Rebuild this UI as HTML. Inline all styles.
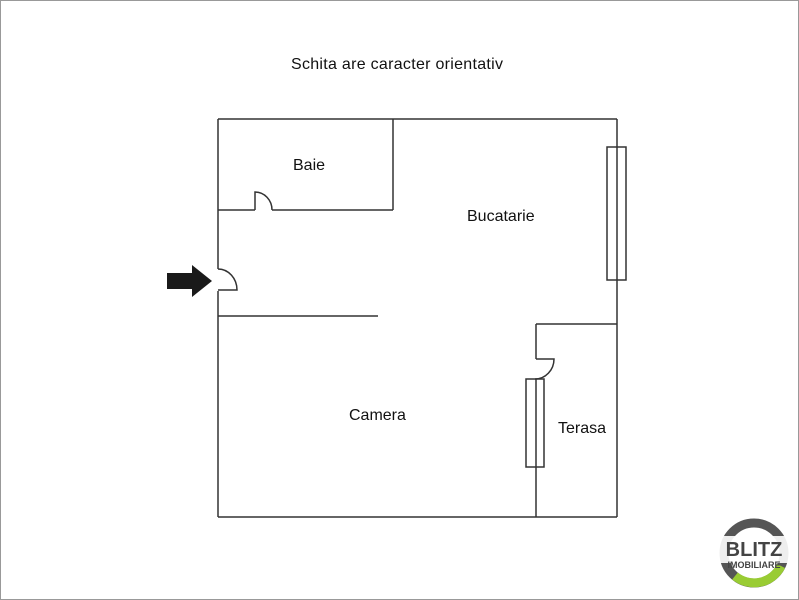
<!DOCTYPE html>
<html><head><style>body{margin:0;background:#fff}svg{display:block}text{font-family:"Liberation Sans",sans-serif}</style></head><body>
<svg width="799" height="600" viewBox="0 0 799 600" xmlns="http://www.w3.org/2000/svg">
<rect x="0.5" y="0.5" width="798" height="599" fill="#fff" stroke="#999"/>
<text x="397" y="69" font-size="16" text-anchor="middle" fill="#111" textLength="212">Schita are caracter orientativ</text>
<g stroke="#333" stroke-width="1.5" fill="none">
<line x1="218" y1="119" x2="617" y2="119"/>
<line x1="218" y1="517" x2="617" y2="517"/>
<line x1="617" y1="119" x2="617" y2="517"/>
<line x1="218" y1="119" x2="218" y2="269"/>
<line x1="218" y1="291" x2="218" y2="517"/>
<path d="M218 269 A19 21 0 0 1 237 290 L218 290"/>
<line x1="393" y1="119" x2="393" y2="210"/>
<line x1="218" y1="210" x2="255" y2="210"/>
<line x1="272" y1="210" x2="393" y2="210"/>
<path d="M255 210 L255 192 A17 18 0 0 1 272 210"/>
<line x1="218" y1="316" x2="378" y2="316"/>
<line x1="536" y1="324" x2="617" y2="324"/>
<line x1="536" y1="324" x2="536" y2="359"/>
<path d="M536 359 L554 359 A19 20 0 0 1 535 379"/>
<rect x="526" y="379" width="18" height="88"/>
<line x1="536" y1="379" x2="536" y2="467"/>
<line x1="536" y1="467" x2="536" y2="517"/>
<rect x="607" y="147" width="19" height="133" fill="#fff"/>
<line x1="617" y1="147" x2="617" y2="280"/>
</g>
<path d="M167 273 H192 V265 L212 281 L192 297 V289 H167 Z" fill="#1a1a1a"/>
<g font-size="16" fill="#111">
<text x="293" y="170">Baie</text>
<text x="467" y="221">Bucatarie</text>
<text x="349" y="420">Camera</text>
<text x="558" y="433">Terasa</text>
</g>
<circle cx="754" cy="553" r="30" fill="none" stroke="#555" stroke-width="9"/>
<path d="M735 576 A30 30 0 0 0 781 566" fill="none" stroke="#9c3" stroke-width="9"/>
<rect x="719" y="536" width="70" height="27" fill="#fff" opacity="0.9"/>
<text x="754" y="556" font-size="20" font-weight="bold" text-anchor="middle" fill="#444">BLITZ</text>
<text x="754" y="568" font-size="9" font-weight="bold" text-anchor="middle" fill="#444">IMOBILIARE</text>
</svg>
</body></html>
